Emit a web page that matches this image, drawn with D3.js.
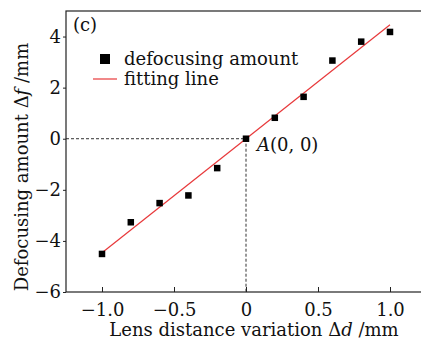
<!DOCTYPE html>
<html>
<head>
<meta charset="utf-8">
<script src="https://cdn.jsdelivr.net/npm/d3@7"></script>
<style>
  html, body { margin: 0; padding: 0; background: #fff; }
  svg { display: block; }
  svg text { font-family: "DejaVu Serif", "Liberation Serif", serif; fill: #111; }
</style>
</head>
<body>
<svg id="chart" width="421" height="341"></svg>
<script>
// Lens distance variation (mm) and measured defocusing amount (mm)
const lensShift = [-1.0, -0.8, -0.6, -0.4, -0.2, 0, 0.2, 0.4, 0.6, 0.8, 1.0];
const defocus   = [-4.51, -3.27, -2.52, -2.22, -1.15, 0, 0.82, 1.64, 3.06, 3.80, 4.18];

// Linear fit through the origin
const fitSlope = 4.46;
const fitIntercept = 0;
const fitRange = [-1.0, 1.0];

const xTicks = [-1.0, -0.5, 0, 0.5, 1.0];
const yTicks = [-6, -4, -2, 0, 2, 4];

const FS = 18;
const svg = d3.select("#chart");
const plotL = 66, plotR = 426, plotT = 11, plotB = 292;

const x = d3.scaleLinear().domain([-1.25, 1.25]).range([plotL, plotR]);
const y = d3.scaleLinear().domain([-6, 5]).range([plotB, plotT]);

const fmtX = d => d === 0 ? "0" : d3.format(".1f")(d);

// dashed guides to point A
const guides = svg.append("g")
  .attr("stroke", "#333").attr("stroke-width", 1).attr("stroke-dasharray", "3,2");
guides.append("line")
  .attr("x1", plotL).attr("x2", x(0)).attr("y1", y(0)).attr("y2", y(0));
guides.append("line")
  .attr("x1", x(0)).attr("x2", x(0)).attr("y1", y(0)).attr("y2", plotB);

// axes
const gx = svg.append("g").attr("transform", `translate(0,${plotB})`)
  .call(d3.axisBottom(x).tickValues(xTicks).tickFormat(fmtX).tickSizeInner(-5).tickSizeOuter(0).tickPadding(11));
const gy = svg.append("g").attr("transform", `translate(${plotL},0)`)
  .call(d3.axisLeft(y).tickValues(yTicks).tickFormat(d3.format("d")).tickSizeInner(3).tickSizeOuter(0).tickPadding(2));
[gx, gy].forEach(g => {
  g.attr("font-family", null).attr("font-size", null);
  g.select(".domain").remove();
  g.selectAll("line").attr("stroke", "#222");
  g.selectAll("text").attr("fill", "#111").style("font-size", FS + "px");
});

// frame
svg.append("rect")
  .attr("x", plotL).attr("y", plotT).attr("width", plotR - plotL).attr("height", plotB - plotT)
  .attr("fill", "none").attr("stroke", "#222").attr("stroke-width", 1.2);

// fitting line
svg.append("line")
  .attr("x1", x(fitRange[0])).attr("y1", y(fitSlope * fitRange[0] + fitIntercept))
  .attr("x2", x(fitRange[1])).attr("y2", y(fitSlope * fitRange[1] + fitIntercept))
  .attr("stroke", "#e8383a").attr("stroke-width", 1.2);

// measured points
const sz = 6.5;
svg.append("g").selectAll("rect")
  .data(lensShift.map((d, i) => [d, defocus[i]]))
  .join("rect")
  .attr("x", d => x(d[0]) - sz / 2).attr("y", d => y(d[1]) - sz / 2)
  .attr("width", sz).attr("height", sz).attr("fill", "#000");

// panel label
svg.append("text").attr("x", 73).attr("y", 31).style("font-size", FS + "px").text("(c)");

// point A label
const aLabel = svg.append("text").attr("x", x(0) + 11).attr("y", y(0) + 12).style("font-size", FS + "px");
aLabel.append("tspan").attr("font-style", "italic").text("A");
aLabel.append("tspan").text("(0, 0)");

// legend
svg.append("rect").attr("x", 100).attr("y", 54).attr("width", 10).attr("height", 10).attr("fill", "#000");
svg.append("text").attr("x", 124).attr("y", 65).style("font-size", FS + "px").text("defocusing amount");
svg.append("line").attr("x1", 93).attr("x2", 117).attr("y1", 79).attr("y2", 79)
  .attr("stroke", "#e8383a").attr("stroke-width", 1.2);
svg.append("text").attr("x", 124).attr("y", 85).style("font-size", FS + "px").text("fitting line");

// axis titles
const xt = svg.append("text").attr("x", 254).attr("y", 336).attr("text-anchor", "middle").style("font-size", FS + "px");
xt.append("tspan").text("Lens distance variation Δ");
xt.append("tspan").attr("font-style", "italic").text("d");
xt.append("tspan").text(" /mm");

const yt = svg.append("text").attr("transform", "translate(28,167) rotate(-90)")
  .attr("text-anchor", "middle").style("font-size", FS + "px");
yt.append("tspan").text("Defocusing amount Δ");
yt.append("tspan").attr("font-style", "italic").text("f");
yt.append("tspan").text(" /mm");
</script>
</body>
</html>
